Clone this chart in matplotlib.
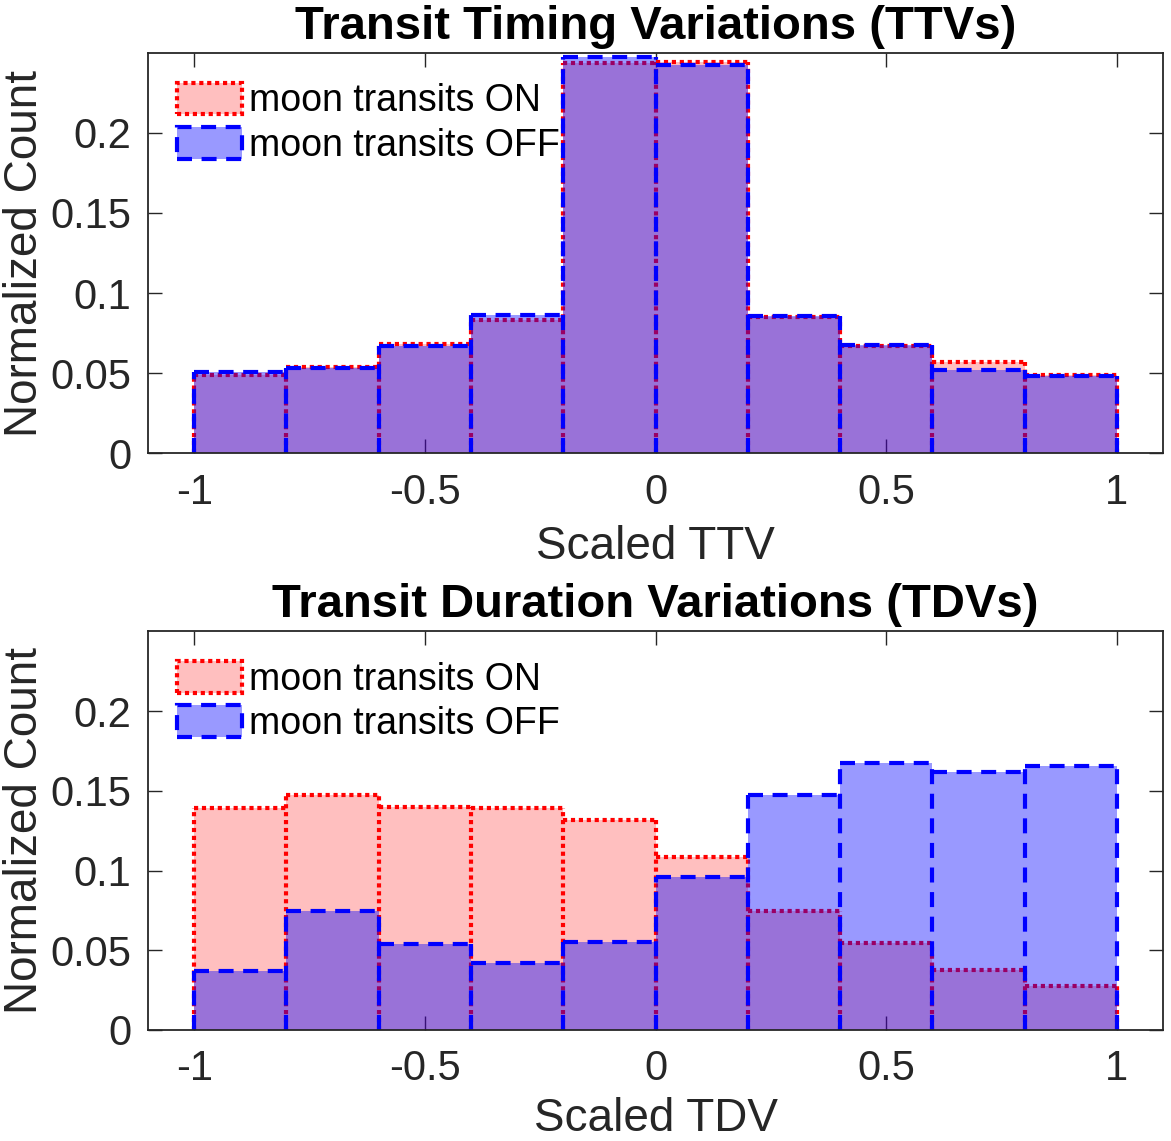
import matplotlib
matplotlib.use("Agg")
import matplotlib.pyplot as plt
from matplotlib.patches import Patch
from matplotlib.ticker import FuncFormatter

plt.rcParams['font.family'] = ['Liberation Sans', 'DejaVu Sans']

bin_edges = [-1.0, -0.8, -0.6, -0.4, -0.2, 0.0, 0.2, 0.4, 0.6, 0.8, 1.0]

ttv_on = [0.0488, 0.0538, 0.0683, 0.0835, 0.2436, 0.2442, 0.0849, 0.0669, 0.0567, 0.0488]
ttv_off = [0.0507, 0.0530, 0.0669, 0.0864, 0.2476, 0.2422, 0.0860, 0.0679, 0.0517, 0.0480]

tdv_on = [0.1390, 0.1475, 0.1400, 0.1390, 0.1317, 0.1085, 0.0744, 0.0544, 0.0375, 0.0275]
tdv_off = [0.0369, 0.0744, 0.0538, 0.0419, 0.0554, 0.0960, 0.1475, 0.1673, 0.1617, 0.1654]

titles = ["Transit Timing Variations (TTVs)", "Transit Duration Variations (TDVs)"]
xlabels = ["Scaled TTV", "Scaled TDV"]
labels = ["moon transits ON", "moon transits OFF"]
xticks = [-1, -0.5, 0, 0.5, 1]
yticks = [0, 0.05, 0.1, 0.15, 0.2]

axcol = (0.15, 0.15, 0.15)
LW = 3.0
styles = {
    'on': dict(face=(1, 0, 0, 0.25), edge=(1, 0, 0), ls=(0, (1, 0.9))),
    'off': dict(face=(0, 0, 1, 0.4), edge=(0, 0, 1), ls=(0, (3.6, 2.3))),
}


def histbars(ax, values, st, z):
    lefts = bin_edges[:-1]
    rights = bin_edges[1:]
    widths = [b - a for a, b in zip(lefts, rights)]
    ax.bar(lefts, values, width=widths, align='edge', facecolor=st['face'],
           edgecolor='none', linewidth=0, zorder=z)
    # outline: tops plus one vertical per bin edge, so shared edges keep their dashes
    ax.hlines(values, lefts, rights, colors=[st['edge']], linewidth=LW,
              linestyles=[st['ls']], zorder=z + 0.1)
    padded = [0] + list(values) + [0]
    tops = [max(padded[i], padded[i + 1]) for i in range(len(bin_edges))]
    ax.vlines(bin_edges, 0, tops, colors=[st['edge']], linewidth=LW,
              linestyles=[st['ls']], zorder=z + 0.1)


def panel(ax, on, off, title, xlabel, xlab_y):
    histbars(ax, on, styles['on'], 2)
    histbars(ax, off, styles['off'], 3)
    ax.set_xlim(-1.1, 1.1)
    ax.set_ylim(0, 0.25)
    ax.set_xticks(xticks)
    ax.set_yticks(yticks)
    fmt = FuncFormatter(lambda v, p: '%g' % v)
    ax.xaxis.set_major_formatter(fmt)
    ax.yaxis.set_major_formatter(fmt)
    ax.tick_params(direction='in', length=10, width=1, colors=axcol,
                   labelsize=30, top=True, right=True)
    ax.tick_params(axis='x', pad=14)
    ax.tick_params(axis='y', pad=12)
    for s in ax.spines.values():
        s.set_color(axcol)
        s.set_linewidth(1.3)
        s.set_zorder(5)
    ax.set_title(title, fontsize=34, fontweight='bold', pad=10)
    ax.set_xlabel(xlabel, fontsize=33, color=axcol)
    ax.set_ylabel("Normalized Count", fontsize=33, color=axcol)
    ax.xaxis.set_label_coords(0.5, xlab_y)
    ax.yaxis.set_label_coords(-0.1, 0.5)
    handles = [Patch(facecolor=styles[k]['face'], edgecolor=styles[k]['edge'],
                     linestyle=styles[k]['ls'], linewidth=LW)
               for k in ('on', 'off')]
    ax.legend(handles, labels, loc='upper left', bbox_to_anchor=(0.029, 0.925),
              frameon=False, fontsize=27, handlelength=1.72, handleheight=0.92,
              handletextpad=0.2, labelspacing=0.2, borderpad=0,
              borderaxespad=0)


fig = plt.figure(figsize=(11.71, 11.41), dpi=100)
ax1 = fig.add_axes([0.1264, 0.6027, 0.8668, 0.3511])
ax2 = fig.add_axes([0.1264, 0.0973, 0.8668, 0.3494])

panel(ax1, ttv_on, ttv_off, titles[0], xlabels[0], -0.178)
panel(ax2, tdv_on, tdv_off, titles[1], xlabels[1], -0.168)

fig.savefig("out.png", dpi=100)
